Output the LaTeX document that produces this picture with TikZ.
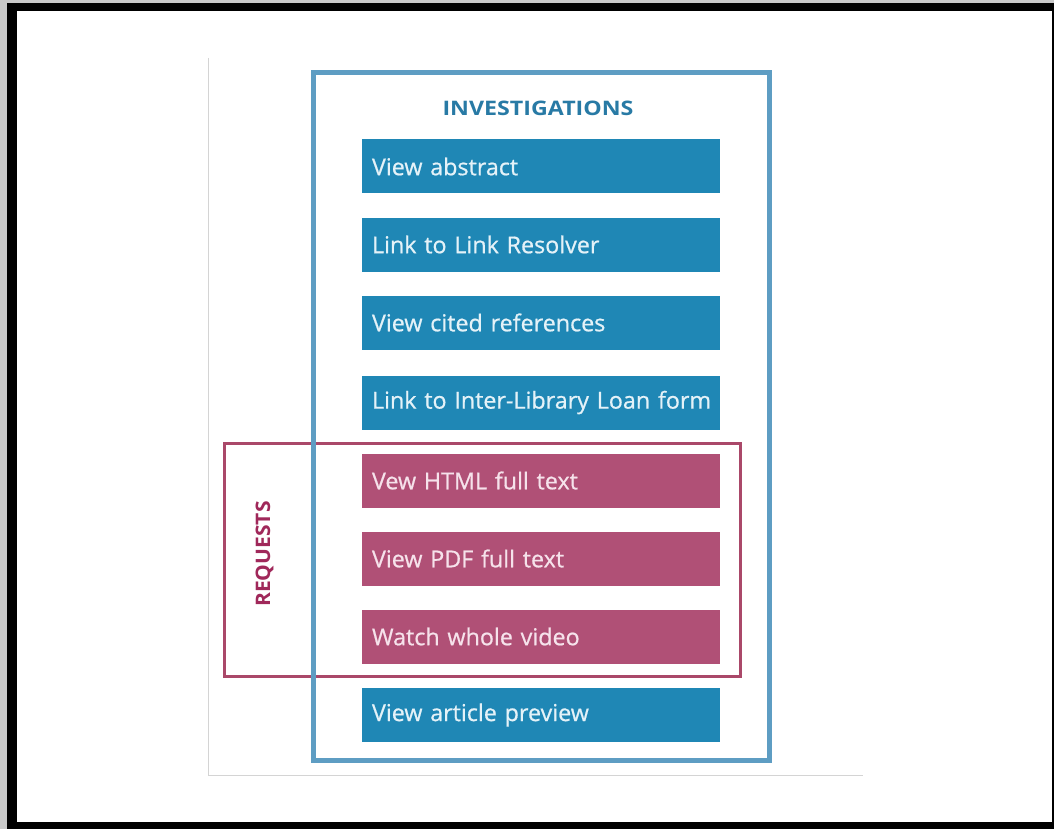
\documentclass[tikz,border=0pt]{standalone}
\usepackage{fontspec}
\setmainfont{Open Sans}
\newfontfamily\itemfont[FakeBold=0.7]{Open Sans}
\newfontfamily\invfont[FakeStretch=1.16]{Open Sans}
\newfontfamily\reqfont[FakeStretch=1.05]{Open Sans}
\definecolor{bordergray}{HTML}{C8C8C8}
\definecolor{panelgray}{HTML}{D4D4D4}
\definecolor{boxblue}{HTML}{1F87B5}
\definecolor{frameblue}{HTML}{5E9DC3}
\definecolor{boxpink}{HTML}{B05076}
\definecolor{framered}{HTML}{AA4869}
\definecolor{titleblue}{HTML}{287AA5}
\definecolor{titlered}{HTML}{A0285A}
\definecolor{bluetext}{HTML}{E4F2F8}
\definecolor{pinktext}{HTML}{F6E2EB}
\tikzset{
  itembox/.style={minimum height=54pt, text width=338pt, inner xsep=10pt, inner ysep=0pt,
    align=left, font=\itemfont\fontsize{23.3}{26}\selectfont, anchor=center},
  bluebox/.style={itembox, fill=boxblue, text=bluetext},
  pinkbox/.style={itembox, fill=boxpink, text=pinktext}
}
\begin{document}
\begin{tikzpicture}[x=1pt,y=-1pt]
\useasboundingbox (0,0) rectangle (1054,829);
\fill[bordergray] (0,0) rectangle (1054,829);
\fill[black] (7,3) rectangle (1054,829);
\fill[white] (17,11) rectangle (1052,822);
\draw[panelgray, line width=1pt] (208,58) -- (208,775) -- (863,775);
% boxes
\node[bluebox] (b1) at (541,166.5) {\mbox{View abstract}};
\node[bluebox] (b2) at (541,244.5) {\mbox{Link to Link Resolver}};
\node[bluebox] (b3) at (541,322.5) {\mbox{View cited references}};
\node[bluebox] (b4) at (541,402.5) {\mbox{Link to Inter-Library Loan form}};
\node[pinkbox] (b5) at (541,480.5) {\mbox{Vew HTML full text}};
\node[pinkbox] (b6) at (541,558.5) {\mbox{View PDF full text}};
\node[pinkbox] (b7) at (541,636.5) {\mbox{Watch whole video}};
\node[bluebox] (b8) at (541,715) {\mbox{View article preview}};
% frames
\draw[framered, line width=3pt] (224.5,443) rectangle (740,676.5);
\draw[frameblue, line width=5pt] (313,73) rectangle (769,760);
% titles
\node[font=\invfont\bfseries\fontsize{20}{24}\selectfont, text=titleblue] (inv) at (538,108.5) {INVESTIGATIONS};
\node[font=\reqfont\bfseries\fontsize{20}{24}\selectfont, text=titlered, rotate=90] (req) at (264.5,554) {REQUESTS};
\end{tikzpicture}
\end{document}
